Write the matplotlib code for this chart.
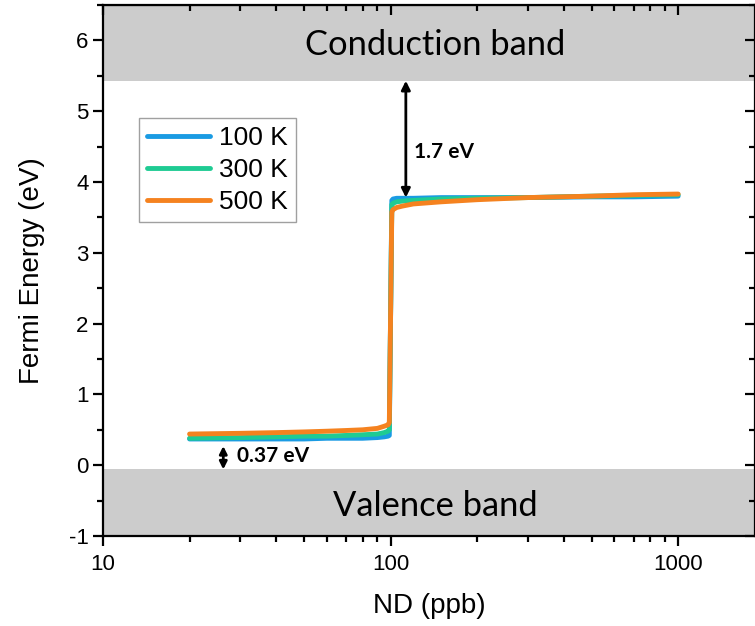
import matplotlib
matplotlib.use("Agg")
import matplotlib.pyplot as plt
from matplotlib.ticker import LogLocator, MultipleLocator, FixedLocator

plt.rcParams['font.family'] = ['Liberation Sans', 'DejaVu Sans']
plt.rcParams['axes.unicode_minus'] = False

# doping concentration (ppb)
nd = [20, 30, 40, 50, 60, 70, 80, 90, 95, 98, 99, 101, 102, 105, 110, 120, 150, 200, 300, 500, 700, 1000]

# Fermi energy (eV) for each temperature
e100 = [0.37, 0.37, 0.37, 0.37, 0.38, 0.38, 0.38, 0.39, 0.40, 0.41, 0.42,
        3.74, 3.76, 3.77, 3.77, 3.77, 3.78, 3.78, 3.78, 3.79, 3.79, 3.80]
e300 = [0.38, 0.39, 0.40, 0.41, 0.41, 0.42, 0.43, 0.44, 0.46, 0.48, 0.50,
        3.68, 3.70, 3.72, 3.73, 3.74, 3.76, 3.77, 3.78, 3.80, 3.81, 3.82]
e500 = [0.44, 0.45, 0.46, 0.47, 0.48, 0.49, 0.50, 0.52, 0.55, 0.57, 0.60,
        3.58, 3.61, 3.64, 3.66, 3.69, 3.72, 3.75, 3.78, 3.80, 3.82, 3.83]

labels = ["100 K", "300 K", "500 K"]
colors = ["#1a9be3", "#1fcb93", "#f5821f"]

cb_edge = 5.43   # conduction band bottom
vb_edge = -0.06  # valence band top

fig = plt.figure(figsize=(7.55, 6.26), dpi=100)
ax = fig.add_axes([0.1364, 0.1438, 0.8636, 0.8482])

ax.axhspan(cb_edge, 6.5, color="#cccccc", lw=0, zorder=0)
ax.axhspan(-1, vb_edge, color="#cccccc", lw=0, zorder=0)

for y, lab, c in zip([e100, e300, e500], labels, colors):
    ax.plot(nd, y, color=c, lw=3.5, label=lab, solid_capstyle="round", solid_joinstyle="round")

ax.set_xscale("log")
ax.set_xlim(10, 1850)
ax.set_ylim(-1, 6.5)

ax.xaxis.set_major_locator(FixedLocator([10, 100, 1000]))
ax.xaxis.set_minor_locator(LogLocator(base=10, subs=range(2, 10)))
ax.set_xticklabels(["10", "100", "1000"])
ax.yaxis.set_major_locator(MultipleLocator(1))
ax.yaxis.set_minor_locator(MultipleLocator(0.5))

for s in ax.spines.values():
    s.set_linewidth(1.6)
ax.tick_params(which="major", direction="out", length=7, width=1.6, labelsize=16, top=False, right=False)
ax.tick_params(which="minor", direction="out", length=4, width=1.6, top=False, right=False)
ax.tick_params(axis="x", which="major", pad=6)
# top and right ticks point inward
ax2 = ax.secondary_xaxis("top")
ax2.set_xticks([10, 100, 1000])
ax2.xaxis.set_minor_locator(LogLocator(base=10, subs=range(2, 10)))
ax2.tick_params(which="major", direction="in", length=7, width=1.6, labeltop=False)
ax2.tick_params(which="minor", direction="in", length=4, width=1.6)
ax3 = ax.secondary_yaxis("right")
ax3.yaxis.set_major_locator(MultipleLocator(1))
ax3.yaxis.set_minor_locator(MultipleLocator(0.5))
ax3.tick_params(which="major", direction="in", length=7, width=1.6, labelright=False)
ax3.tick_params(which="minor", direction="in", length=4, width=1.6)

ax.set_xlabel("ND (ppb)", fontsize=20, labelpad=13)
ax.set_ylabel("Fermi Energy (eV)", fontsize=20, labelpad=17)

ax.text(0.51, 0.924, "Conduction band", transform=ax.transAxes, ha="center", va="center",
        fontsize=24.8, family=["Lato", "DejaVu Sans"])
ax.text(0.51, 0.056, "Valence band", transform=ax.transAxes, ha="center", va="center",
        fontsize=24.8, family=["Lato", "DejaVu Sans"])

ax.annotate("", xy=(113, cb_edge), xytext=(113, 3.78),
            arrowprops=dict(arrowstyle="<|-|>", color="black", lw=2, mutation_scale=13,
                            shrinkA=0, shrinkB=0))
ax.text(121, 4.42, "1.7 eV", fontsize=15, fontweight="bold", va="center",
        family=["Lato", "DejaVu Sans"])
ax.annotate("", xy=(26.2, vb_edge), xytext=(26.2, 0.27),
            arrowprops=dict(arrowstyle="<|-|>", color="black", lw=2, mutation_scale=11,
                            shrinkA=0, shrinkB=0))
ax.text(29.3, 0.13, "0.37 eV", fontsize=15, fontweight="bold", va="center",
        family=["Lato", "DejaVu Sans"])

leg = ax.legend(loc="upper left", bbox_to_anchor=(0.055, 0.787), fontsize=19, frameon=True,
                fancybox=False, edgecolor="#888888", handlelength=2.4, handletextpad=0.35,
                labelspacing=0.3, borderpad=0.3, borderaxespad=0)
leg.get_frame().set_linewidth(1)

fig.savefig("out.png", dpi=100)
